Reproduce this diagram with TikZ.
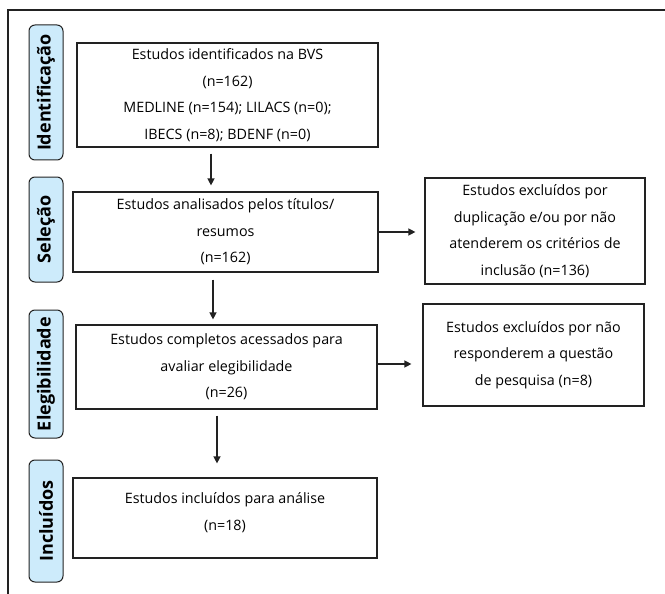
\documentclass[tikz,border=0pt]{standalone}
\usepackage{fontspec}
\setmainfont{Open Sans}
\usetikzlibrary{arrows.meta,calc}
\definecolor{lblfill}{HTML}{CDEBFB}
\definecolor{lnc}{HTML}{222222}
\tikzset{
  box/.style={draw=lnc, line width=1.2pt, align=center, inner sep=0pt,
    font=\fontsize{14.3}{26.5}\selectfont},
  phase/.style={draw=lnc, line width=1pt, fill=lblfill, rounded corners=6pt,
    minimum height=34pt, inner sep=0pt, rotate=90,
    font=\fontsize{18}{20}\selectfont\bfseries},
  arr/.style={draw=lnc, line width=1.3pt, -{Triangle[length=7pt,width=7pt]}},
  frame/.style={draw=lnc, line width=1.2pt}
}
\begin{document}
\begin{tikzpicture}[x=1pt,y=-1pt]
\useasboundingbox (0,0) rectangle (665,594);
\draw[frame] (8,594) -- (8,10) -- (665,10);
% phase labels
\node[phase, minimum width=135pt] (p1) at (46,92.5) {Identificação};
\node[phase, minimum width=105pt] (p2) at (46,229.5) {Seleção};
\node[phase, minimum width=128pt] (p3) at (46,374) {Elegibilidade};
\node[phase, minimum width=122pt] (p4) at (46,521) {Incluídos};
% main boxes
\node[box, minimum width=301pt, minimum height=104pt] (b1) at (227.5,95)
  {Estudos identificados na BVS\\(n=162)\\MEDLINE (n=154); LILACS (n=0);\\IBECS (n=8); BDENF (n=0)};
\node[box, minimum width=305pt, minimum height=80pt] (b2) at (225.5,232)
  {Estudos analisados pelos títulos/\\resumos\\(n=162)};
\node[box, minimum width=301pt, minimum height=84pt] (b3) at (226.5,367)
  {Estudos completos acessados para\\avaliar elegibilidade\\(n=26)};
\node[box, minimum width=304pt, minimum height=80pt] (b4) at (225,518)
  {Estudos incluídos para análise\\(n=18)\\[-14pt]};
% side boxes
\node[box, minimum width=220pt, minimum height=106pt] (r1) at (535,231)
  {Estudos excluídos por\\duplicação e/ou por não\\atenderem os critérios de\\inclusão (n=136)};
\node[box, minimum width=221pt, minimum height=102pt] (r2) at (533.5,355)
  {Estudos excluídos por não\\responderem a questão\\de pesquisa (n=8)};
% arrows
\draw[arr] ($(b1.south)+(-16.5,6)$) -- ($(b1.south|-b2.north)+(-16.5,-6)$);
\draw[arr] ($(b2.south)+(-12.5,7)$) -- ($(b2.south|-b3.north)+(-12.5,-5)$);
\draw[arr] ($(b3.south)+(-9.5,6)$) -- ($(b3.south|-b4.north)+(-9.5,-14)$);
\draw[arr] (b2.east) -- ($(b2.east-|r1.west)+(-9,0)$);
\draw[arr] ($(b3.east)+(0,-3)$) -- ($(b3.east-|r2.west)+(-11,-3)$);
\end{tikzpicture}
\end{document}
